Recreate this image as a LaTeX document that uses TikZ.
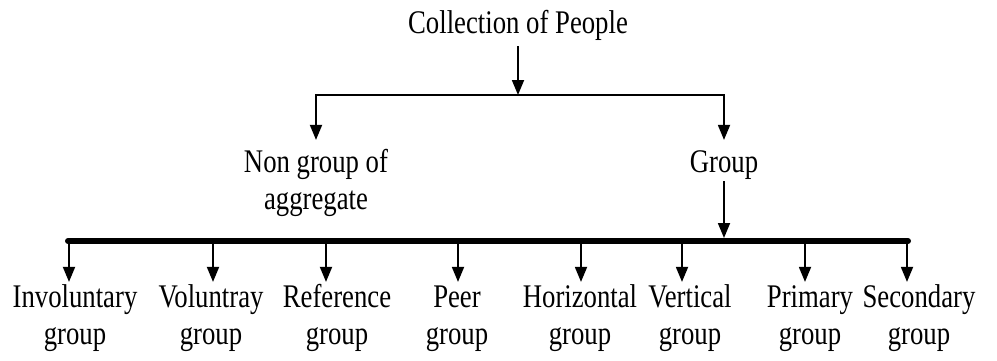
\documentclass[tikz,border=0pt]{standalone}
\usepackage{fontspec}
\setmainfont{Liberation Serif}[FakeStretch=0.81]
\usetikzlibrary{arrows.meta}
\newcommand{\mklines}[1]{\begin{tabular}[t]{@{}c@{}}#1\end{tabular}}
\begin{document}
\begin{tikzpicture}[x=1pt,y=-1pt,
  lab/.style={inner sep=0pt, anchor=base, font=\fontsize{33}{37}\selectfont},
  arr/.style={line width=1.8pt, -{Triangle[width=12pt,length=15pt]}},
  twoarr/.style={line width=1.8pt, {Triangle[width=12pt,length=15pt]}-{Triangle[width=12pt,length=15pt]}},
  thickbar/.style={line width=6pt, line cap=round}]
\useasboundingbox (0,0) rectangle (997,360);
% top level
\node[lab] (top) at (518,33) {Collection of People};
\coordinate (j1) at (518,95);
\coordinate (jr) at (724,95);
\node[lab] (ng) at (316,172) {\mklines{Non group of\\aggregate}};
\node[lab] (grp) at (724,172) {\mklines{Group}};
\draw[arr, shorten <=6pt] (top.south) -- (j1);
\draw[twoarr, shorten <=6pt, shorten >=6pt] (ng.north) |- (jr) -- (grp.north);
% thick bar
\coordinate (bl) at (68,241);
\coordinate (br) at (908,241);
\coordinate (gj) at (724,241);
\draw[thickbar] (bl) -- (br);
\draw[arr, shorten <=-2pt, shorten >=3pt] (grp.south) -- (gj);
% bottom labels
\node[lab] (inv) at (75,307)  {\mklines{Involuntary\\group}};
\node[lab] (vol) at (211,307) {\mklines{Voluntray\\group}};
\node[lab] (ref) at (337,307) {\mklines{Reference\\group}};
\node[lab] (peer) at (457,307) {\mklines{Peer\\group}};
\node[lab] (hor) at (580,307) {\mklines{Horizontal\\group}};
\node[lab] (ver) at (690,307) {\mklines{Vertical\\group}};
\node[lab] (pri) at (810,307) {\mklines{Primary\\group}};
\node[lab] (sec) at (919,307) {\mklines{Secondary\\group}};
% bar junctions
\coordinate (c1) at (69,241);
\coordinate (c2) at (213,241);
\coordinate (c3) at (326,241);
\coordinate (c4) at (458,241);
\coordinate (c5) at (581,241);
\coordinate (c6) at (682,241);
\coordinate (c7) at (805,241);
\coordinate (c8) at (907,241);
\foreach \c/\n in {c1/inv,c2/vol,c3/ref,c4/peer,c5/hor,c6/ver,c7/pri,c8/sec}
  \draw[arr, shorten >=-1pt] (\c) -- (\c |- \n.north);
\end{tikzpicture}
\end{document}
